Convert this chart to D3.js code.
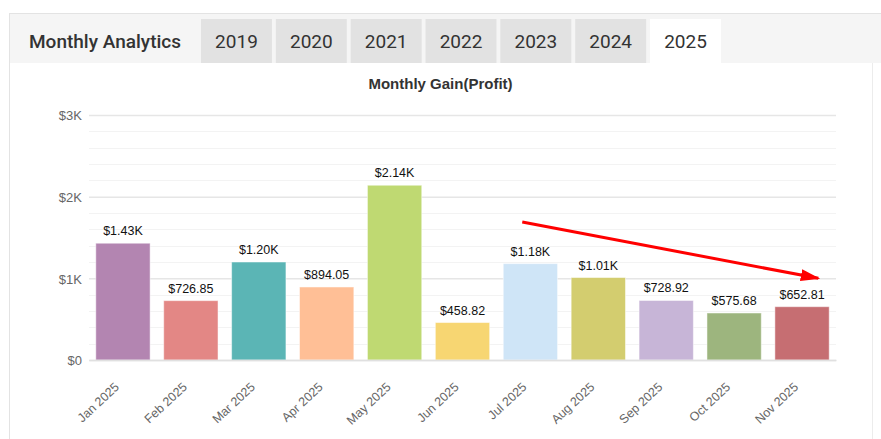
<!DOCTYPE html>
<html>
<head>
<meta charset="utf-8">
<script src="https://cdn.jsdelivr.net/npm/d3@7"></script>
<style>
  body { margin: 0; background: #fff; }
  svg { display: block; }
</style>
</head>
<body>
<div id="chart"></div>
<script>
var years = ["2019", "2020", "2021", "2022", "2023", "2024", "2025"];
var activeYear = "2025";
var months = ["Jan 2025", "Feb 2025", "Mar 2025", "Apr 2025", "May 2025", "Jun 2025",
              "Jul 2025", "Aug 2025", "Sep 2025", "Oct 2025", "Nov 2025"];
var gains = [1430, 726.85, 1200, 894.05, 2140, 458.82, 1180, 1010, 728.92, 575.68, 652.81];
var barColors = ["#b385b1", "#e38785", "#5bb5b5", "#ffbf96", "#bfd972", "#f7d672",
                 "#cfe5f7", "#d3cd6f", "#c7b5d7", "#9db57e", "#c66e72"];
var yTicks = [0, 1000, 2000, 3000];
// trend arrow: from Jul to Nov (value space, off = fraction of the bar width)
var trend = [{m: "Jul 2025", v: 1690, off: 0.35}, {m: "Nov 2025", v: 1000, off: 0.8}];

var W = 881, H = 439;
var svg = d3.select("#chart").append("svg")
    .attr("width", W)
    .attr("height", H);

// ---- panel / header ----
svg.append("rect").attr("x", 10).attr("y", 13).attr("width", W - 10).attr("height", 50)
    .attr("fill", "#f5f5f5");
svg.append("line").attr("x1", 10).attr("x2", W).attr("y1", 13.5).attr("y2", 13.5)
    .attr("stroke", "#e3e3e3");
svg.append("line").attr("x1", 9.5).attr("x2", 9.5).attr("y1", 13).attr("y2", H)
    .attr("stroke", "#e3e3e3");
svg.append("line").attr("x1", 872.5).attr("x2", 872.5).attr("y1", 63).attr("y2", H)
    .attr("stroke", "#ececec");

svg.append("text")
    .attr("x", 29).attr("y", 48)
    .attr("font-family", "Roboto")
    .attr("font-weight", 500)
    .attr("font-size", "19px")
    .attr("fill", "#333")
    .text("Monthly Analytics");

var tabX = d3.scaleBand().domain(years).range([201, 721]).paddingInner(0.052).paddingOuter(0);
var tab = svg.selectAll(".tab").data(years).enter().append("g").attr("class", "tab");
tab.append("rect")
    .attr("x", function(d) { return tabX(d); })
    .attr("y", 19)
    .attr("width", tabX.bandwidth())
    .attr("height", 44)
    .attr("fill", function(d) { return d == activeYear ? "#fff" : "#e2e2e2"; });
tab.append("text")
    .attr("x", function(d) { return tabX(d) + tabX.bandwidth() / 2; })
    .attr("y", 48)
    .attr("text-anchor", "middle")
    .attr("font-family", "Roboto")
    .attr("font-size", "19px")
    .attr("fill", "#333")
    .text(function(d) { return d; });

// ---- chart ----
var margin = {top: 115, right: 45, bottom: 79, left: 89},
    width = W - margin.left - margin.right,
    height = H - margin.top - margin.bottom;

svg.append("text")
    .attr("x", W / 2)
    .attr("y", 89)
    .attr("text-anchor", "middle")
    .attr("font-family", "Arial")
    .attr("font-weight", "bold")
    .attr("font-size", "15px")
    .attr("fill", "#333")
    .text("Monthly Gain(Profit)");

var g = svg.append("g").attr("transform", "translate(" + margin.left + "," + margin.top + ")");

var xScale = d3.scaleBand().domain(months).range([0, width]).paddingInner(0.2).paddingOuter(0.1);
var yScale = d3.scaleLinear().domain([0, 3000]).range([height, 0]);

// grid
g.append("g").selectAll("line")
    .data(d3.range(0, 3001, 200).filter(function(v) { return v % 1000 != 0; }))
    .enter().append("line")
    .attr("x1", 0).attr("x2", width)
    .attr("y1", function(d) { return Math.round(yScale(d)) + 0.5; })
    .attr("y2", function(d) { return Math.round(yScale(d)) + 0.5; })
    .attr("stroke", "#f3f3f3");

var yAxis = g.append("g")
    .call(d3.axisLeft(yScale).tickValues(yTicks).tickSize(-width).tickPadding(7)
        .tickFormat(function(d) { return d == 0 ? "$0" : "$" + d / 1000 + "K"; }));
yAxis.select(".domain").remove();
yAxis.selectAll(".tick line").attr("stroke", "#e6e6e6").attr("stroke-width", 1.5);
yAxis.selectAll(".tick text")
    .attr("font-family", "Arial").attr("font-size", "13px").attr("fill", "#666")
    .attr("dy", "0.36em");

// bars
var bar = g.selectAll(".bar").data(months).enter().append("g").attr("class", "bar");
bar.append("rect")
    .attr("x", function(d) { return xScale(d); })
    .attr("y", function(d, i) { return yScale(gains[i]); })
    .attr("width", xScale.bandwidth())
    .attr("height", function(d, i) { return height - yScale(gains[i]); })
    .attr("fill", function(d, i) { return barColors[i]; })
    .attr("stroke", "#fff")
    .attr("stroke-opacity", 0.5)
    .attr("stroke-width", 1);

bar.append("text")
    .attr("x", function(d) { return xScale(d) + xScale.bandwidth() / 2; })
    .attr("y", function(d, i) { return yScale(gains[i]) - 8; })
    .attr("text-anchor", "middle")
    .attr("font-family", "Arial")
    .attr("font-size", "12.5px")
    .attr("fill", "#111")
    .text(function(d, i) {
        var v = gains[i];
        return v >= 1000 ? "$" + (v / 1000).toFixed(2) + "K" : "$" + v.toFixed(2);
    });

// x axis
var xAxis = g.append("g")
    .attr("transform", "translate(0," + height + ")")
    .call(d3.axisBottom(xScale).tickSize(0).tickPadding(0));
xAxis.select(".domain").attr("stroke", "#e0e0e0").attr("stroke-width", 1.5);
xAxis.selectAll(".tick text")
    .attr("font-family", "Arial").attr("font-size", "12.5px").attr("fill", "#666")
    .attr("text-anchor", "end")
    .attr("dy", 0)
    .attr("transform", "translate(-3,28) rotate(-43)");

// trend arrow
var defs = svg.append("defs");
defs.append("marker")
    .attr("id", "arrow")
    .attr("viewBox", "0 0 10 10")
    .attr("refX", 9).attr("refY", 5)
    .attr("markerWidth", 6.5).attr("markerHeight", 4)
    .attr("markerUnits", "strokeWidth")
    .attr("orient", "auto")
    .attr("preserveAspectRatio", "none")
    .append("path").attr("d", "M0,0 L10,5 L0,10 z").attr("fill", "#f00");

g.append("line")
    .attr("x1", xScale(trend[0].m) + xScale.bandwidth() * trend[0].off)
    .attr("y1", yScale(trend[0].v))
    .attr("x2", xScale(trend[1].m) + xScale.bandwidth() * trend[1].off)
    .attr("y2", yScale(trend[1].v))
    .attr("stroke", "#f00")
    .attr("stroke-width", 3)
    .attr("marker-end", "url(#arrow)");
</script>
</body>
</html>
